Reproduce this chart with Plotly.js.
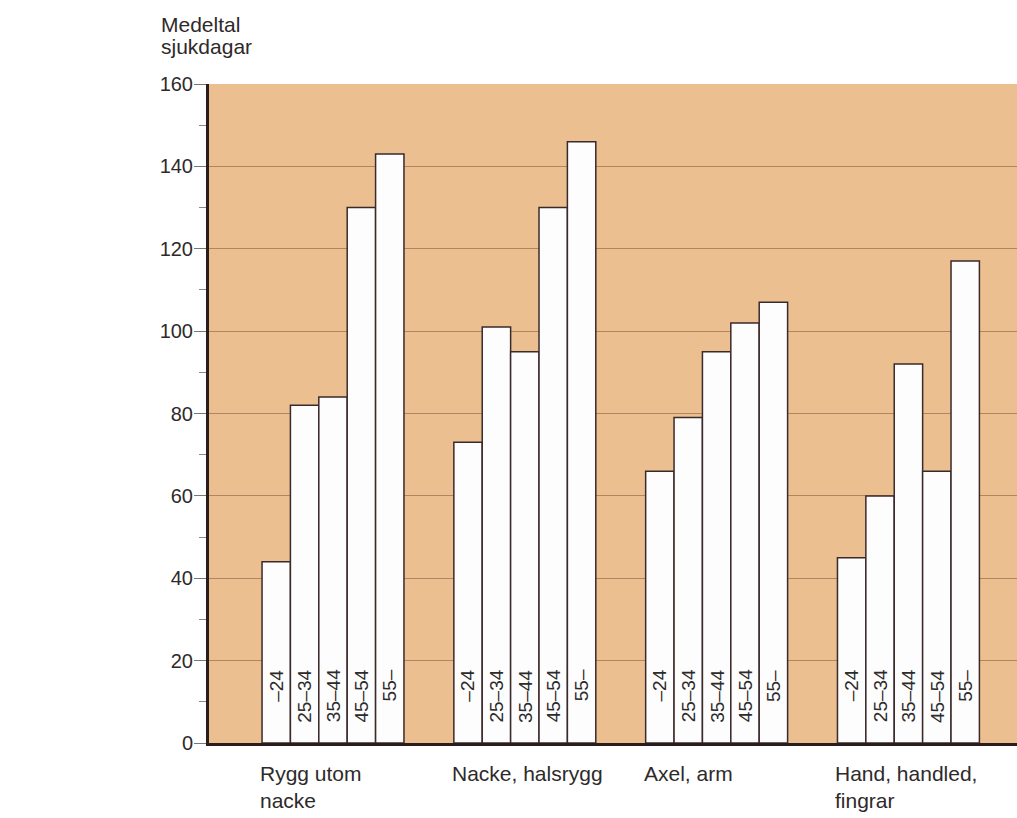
<!DOCTYPE html>
<html>
<head>
<meta charset="utf-8">
<script src="https://cdn.plot.ly/plotly-3.0.1.min.js"></script>
<style>html,body{margin:0;padding:0;background:#fff;}#chart{width:1017px;height:818px;}</style>
</head>
<body>
<div id="chart"></div>
<script>
// Data
const categories = ["Rygg utom<br>nacke", "Nacke, halsrygg", "Axel, arm", "Hand, handled,<br>fingrar"];
const ageGroups = ["–24", "25–34", "35–44", "45–54", "55–"];
const age_24 = [44, 73, 66, 45];
const age25_34 = [82, 101, 79, 60];
const age35_44 = [84, 95, 95, 92];
const age45_54 = [130, 130, 102, 66];
const age55 = [143, 146, 107, 117];
const yTicks = [0, 20, 40, 60, 80, 100, 120, 140, 160];
const yTitleLines = ["Medeltal", "sjukdagar"];

const series = [age_24, age25_34, age35_44, age45_54, age55];
const bargap = 0.26;
const idx = categories.map((c, i) => i);

const txt = '#2e2a2a';
const font = 'Liberation Sans, Arial, sans-serif';

const traces = series.map((vals, j) => ({
  type: 'bar',
  name: ageGroups[j],
  x: idx,
  y: vals,
  marker: {color: '#fdfdfe', line: {color: '#3b2a2a', width: 1.5}},
  hoverinfo: 'y',
  showlegend: false
}));

const annotations = [];
const w = (1 - bargap) / ageGroups.length;
// age labels inside bars (text end aligned near value 18)
idx.forEach(i => {
  ageGroups.forEach((a, j) => {
    annotations.push({
      xref: 'x', yref: 'y',
      x: i + (j - (ageGroups.length - 1) / 2) * w,
      y: 18.3,
      text: a, showarrow: false, textangle: -90,
      xanchor: 'center', yanchor: 'top',
      font: {family: font, size: 19, color: txt}
    });
  });
  // category labels, left-aligned at group start
  annotations.push({
    xref: 'x', yref: 'y',
    x: i - (1 - bargap) / 2, y: 0,
    text: categories[i], showarrow: false,
    xanchor: 'left', yanchor: 'top', align: 'left',
    xshift: -4, yshift: -17,
    font: {family: font, size: 21, color: txt}
  });
});
// y-axis title (two lines)
yTitleLines.forEach((t, k) => {
  annotations.push({
    xref: 'paper', yref: 'paper', x: 0, y: 1,
    xanchor: 'left', yanchor: 'bottom',
    xshift: -50, yshift: k === 0 ? 46 : 24,
    text: t, showarrow: false,
    font: {family: font, size: 21, color: txt}
  });
});

const layout = {
  width: 1017, height: 818,
  margin: {l: 209, r: 0, t: 84, b: 75, pad: 0},
  paper_bgcolor: '#ffffff',
  plot_bgcolor: '#ecbf91',
  barmode: 'group',
  bargap: bargap,
  bargroupgap: 0,
  xaxis: {
    type: 'linear',
    range: [-0.6465, 3.566],
    showticklabels: false, ticks: '', showgrid: false, zeroline: false,
    showline: true, linewidth: 3, linecolor: '#2b1d1d', fixedrange: true
  },
  yaxis: {
    range: [0, 160],
    tickvals: yTicks,
    ticks: 'outside', ticklen: 12, tickwidth: 1, tickcolor: '#777',
    minor: {dtick: 10, ticks: 'outside', ticklen: 7, tickcolor: '#888', showgrid: false},
    showgrid: true, gridcolor: '#b48460', gridwidth: 1,
    zeroline: false,
    showline: true, linewidth: 3, linecolor: '#2b1d1d',
    tickfont: {family: font, size: 20, color: txt},
    ticklabelstandoff: -3
  },
  annotations: annotations,
  showlegend: false
};

Plotly.newPlot('chart', traces, layout, {displayModeBar: false, staticPlot: true});
</script>
</body>
</html>
